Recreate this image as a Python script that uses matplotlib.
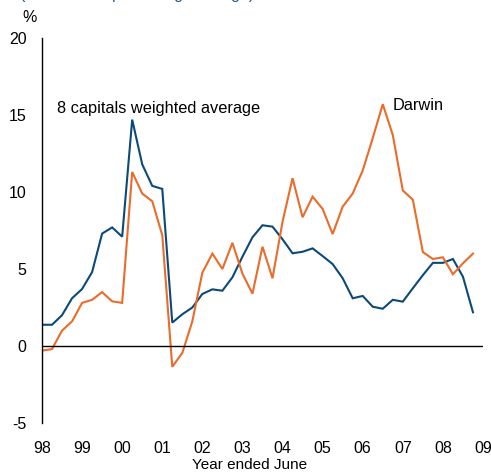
import matplotlib
matplotlib.use("Agg")
import matplotlib.pyplot as plt
import numpy as np

plt.rcParams['font.family'] = ['Liberation Sans', 'DejaVu Sans']

start_year = 1998
quarters_per_year = 4
capitals = [1.38, 1.38, 2.0, 3.1, 3.7, 4.8, 7.3, 7.7, 7.1, 14.7, 11.8, 10.4, 10.2,
            1.52, 2.06, 2.5, 3.38, 3.68, 3.59, 4.46, 5.8, 7.06, 7.84, 7.75, 6.93,
            6.02, 6.12, 6.34, 5.84, 5.32, 4.4, 3.1, 3.25, 2.55, 2.42, 3.0, 2.88,
            3.75, 4.6, 5.4, 5.4, 5.65, 4.5, 2.19]
darwin = [-0.3, -0.2, 1.0, 1.6, 2.8, 3.0, 3.5, 2.9, 2.8, 11.3, 9.9, 9.4, 7.2,
          -1.35, -0.45, 1.6, 4.76, 6.0, 5.0, 6.7, 4.7, 3.4, 6.45, 4.4, 8.07,
          10.9, 8.36, 9.7, 8.9, 7.27, 9.05, 9.9, 11.4, 13.5, 15.7, 13.7, 10.1,
          9.5, 6.1, 5.65, 5.76, 4.66, 5.37, 6.0]
year_ticks = list(range(1998, 2010))
year_labels = ['98', '99', '00', '01', '02', '03', '04', '05', '06', '07', '08', '09']
y_ticks = [-5, 0, 5, 10, 15, 20]

x = start_year + np.arange(len(capitals)) / quarters_per_year

BLUE = '#0b4a78'
ORANGE = '#ea6b2a'

fig = plt.figure(figsize=(4.91, 4.74), dpi=100)
ax = fig.add_axes([0.0855, 0.1076, 0.8982, 0.8122])

ax.plot(x, capitals, color=BLUE, lw=1.5, solid_joinstyle='miter')
ax.plot(x, darwin, color=ORANGE, lw=1.5, solid_joinstyle='miter')
ax.axhline(0, color='black', lw=1.0)

ax.set_xlim(1998, 2009)
ax.set_ylim(-5, 20)
ax.set_xticks(year_ticks)
ax.set_xticklabels(year_labels)
ax.set_yticks(y_ticks)
ax.set_yticklabels([str(v) for v in y_ticks])
ax.tick_params(axis='x', length=0, pad=13, labelsize=11.5)
ax.tick_params(axis='y', length=0, pad=11, labelsize=11.5)
for s in ['top', 'right', 'bottom']:
    ax.spines[s].set_visible(False)
ax.spines['left'].set_linewidth(1.0)

ax.text(1998.37, 15.4, '8 capitals weighted average', fontsize=11.8, ha='left', va='center')
ax.text(2006.75, 15.6, 'Darwin', fontsize=11.8, ha='left', va='center')

fig.text(22 / 491, 1 - 17 / 474, '%', fontsize=11.5, ha='left', va='center')
fig.text(20 / 491, 1 + 5 / 474, '(Year-ended percentage change)', fontsize=11.5,
         ha='left', va='center', color='#1f5a8c')
fig.text(250 / 491, 1 - 465 / 474, 'Year ended June', fontsize=11, ha='center', va='center')

fig.savefig('out.png', dpi=100)
